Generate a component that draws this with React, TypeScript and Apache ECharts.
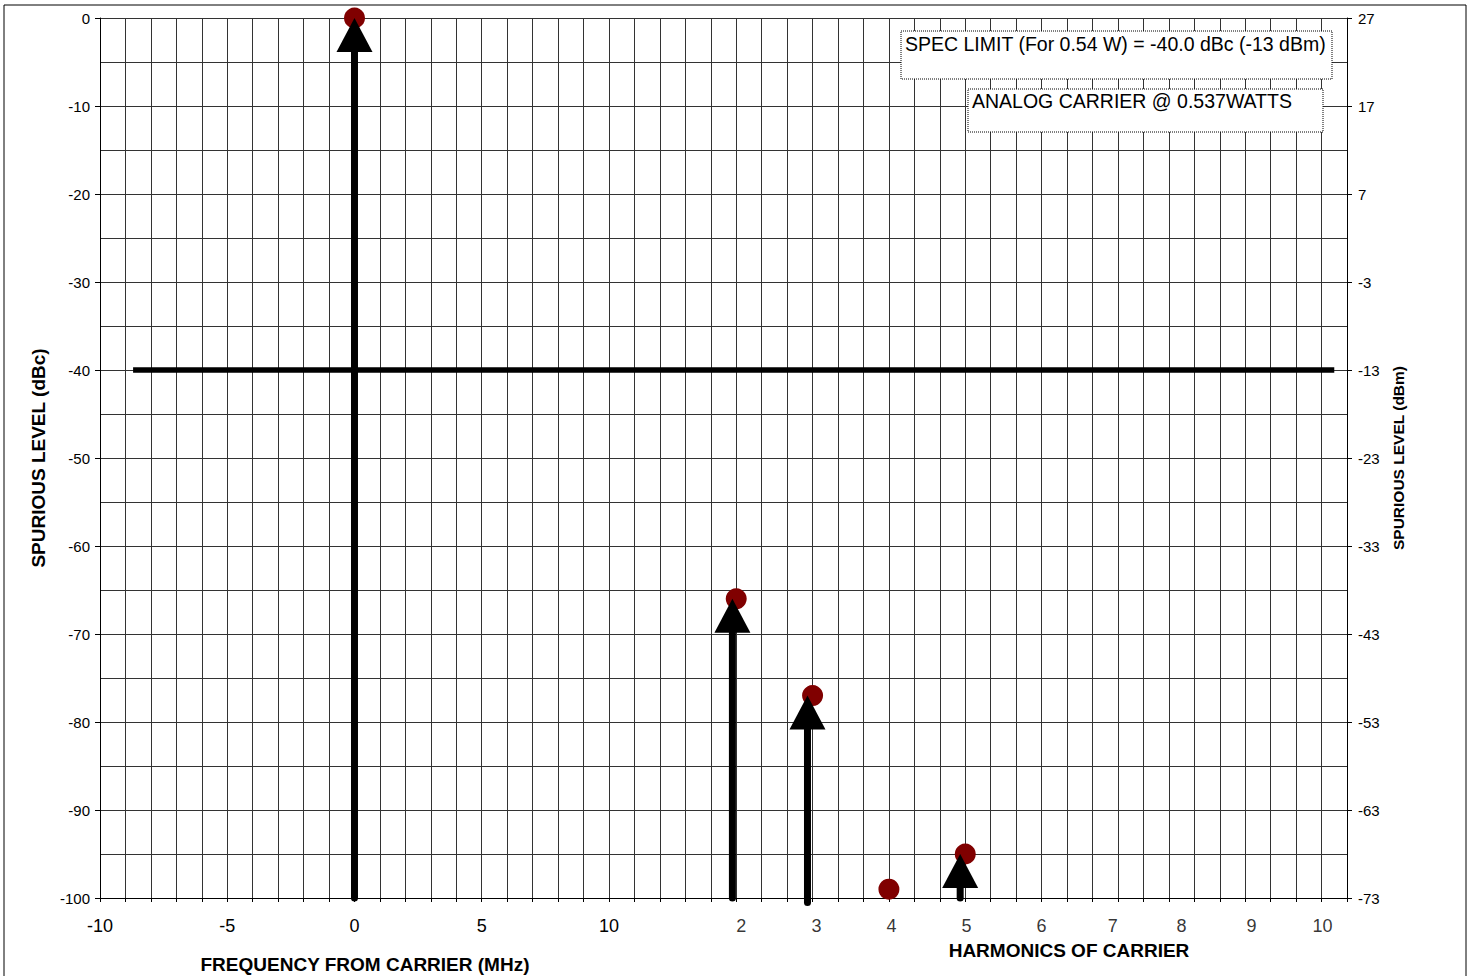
import React, { useEffect, useRef } from "react";
import * as echarts from "echarts";

const FONT = '"Liberation Sans", Arial, Helvetica, sans-serif';

// Frequency axis (MHz from carrier)
const freqMin = -10;
const freqMax = 39;
const freqLabelValues = [-10, -5, 0, 5, 10];

// Spurious level axis (dBc); right axis shows the same scale in dBm
const levelMin = -100;
const levelMax = 0;
const carrierDbm = 27;

// Measured levels: carrier at 0 MHz, then harmonics 2..5
const spurX = [0, 15, 18, 21, 24];
const spurLevel = [0, -66, -77, -99, -95];

// Arrows pointing up to the measured levels
const arrowX = [0, 14.85, 17.8, 23.8];
const arrowTop = [0, -66, -77, -95];
const arrowBottom = [-100, -100, -100.5, -100];

// Spec limit line
const specLimit = -40;
const specLimitStart = -8.7;
const specLimitEnd = 38.5;

// Harmonic numbering along the bottom axis
const harmonicNames = ["2", "3", "4", "5", "6", "7", "8", "9", "10"];
const harmonicLabelX = [15.2, 18.15, 21.1, 24.05, 27.0, 29.8, 32.5, 35.25, 38.04];

const specText = "SPEC LIMIT (For 0.54 W) = -40.0 dBc (-13 dBm)";
const carrierText = "ANALOG CARRIER @ 0.537WATTS";

const gridColor = "#333";

export default function App() {
  const ref = useRef<HTMLDivElement>(null);

  useEffect(() => {
    if (!ref.current) return;
    const chart = echarts.init(ref.current, null, { renderer: "svg" });

    const noteBox = (x: number, y: number, w: number, h: number) => ({
      type: "rect",
      z: 100,
      silent: true,
      shape: { x, y, width: w, height: h },
      style: { fill: "#fff", stroke: "#000", lineWidth: 1, lineDash: [1, 1] },
    });
    const noteText = (x: number, y: number, text: string) => ({
      type: "text",
      z: 101,
      silent: true,
      x,
      y,
      style: {
        text,
        fontSize: 19.5,
        fontFamily: FONT,
        fill: "#000",
        align: "left",
        verticalAlign: "middle",
      },
    });

    const option: any = {
      animation: false,
      backgroundColor: "#fff",
      textStyle: { fontFamily: FONT, color: "#000" },
      grid: { left: 100, right: 129, top: 18, bottom: 78, containLabel: false },
      xAxis: {
        type: "value",
        min: freqMin,
        max: freqMax,
        interval: 1,
        axisLine: { show: true, onZero: false, lineStyle: { color: "#000", width: 1 } },
        axisTick: { show: true, length: 4, lineStyle: { color: "#000" } },
        axisLabel: {
          fontSize: 18,
          fontFamily: FONT,
          color: "#000",
          margin: 19,
          formatter: (v: number) => (freqLabelValues.indexOf(v) >= 0 ? String(v) : ""),
        },
        splitLine: { show: true, lineStyle: { color: gridColor, width: 1 } },
      },
      yAxis: [
        {
          type: "value",
          position: "left",
          min: levelMin,
          max: levelMax,
          interval: 10,
          name: "SPURIOUS LEVEL (dBc)",
          nameLocation: "middle",
          nameRotate: 90,
          nameGap: 52,
          nameTextStyle: { fontSize: 19, fontWeight: "bold", fontFamily: FONT, color: "#000" },
          axisLine: { show: true, onZero: false, lineStyle: { color: "#000", width: 1 } },
          axisTick: { show: true, length: 5, lineStyle: { color: "#000" } },
          axisLabel: { fontSize: 15, fontFamily: FONT, color: "#000", margin: 10 },
          splitLine: { show: true, lineStyle: { color: gridColor, width: 1 } },
          minorTick: { show: false, splitNumber: 2 },
          minorSplitLine: { show: true, lineStyle: { color: gridColor, width: 1 } },
        },
        {
          type: "value",
          position: "right",
          min: levelMin,
          max: levelMax,
          interval: 10,
          name: "SPURIOUS LEVEL (dBm)",
          nameLocation: "middle",
          nameRotate: 90,
          nameGap: 42,
          nameTextStyle: { fontSize: 15.5, fontWeight: "bold", fontFamily: FONT, color: "#000" },
          axisLine: { show: true, onZero: false, lineStyle: { color: "#000", width: 1 } },
          axisTick: { show: true, length: 5, lineStyle: { color: "#000" } },
          axisLabel: {
            fontSize: 15,
            fontFamily: FONT,
            color: "#000",
            margin: 11,
            formatter: (v: number) => String(v + carrierDbm),
          },
          splitLine: { show: false },
        },
      ],
      series: [
        {
          name: "spec",
          type: "line",
          data: [
            [specLimitStart, specLimit],
            [specLimitEnd, specLimit],
          ],
          symbol: "none",
          lineStyle: { color: "#000", width: 5.5 },
          silent: true,
          z: 2,
        },
        {
          name: "levels",
          type: "scatter",
          data: spurX.map((x, i) => [x, spurLevel[i]]),
          symbol: "circle",
          symbolSize: 21,
          itemStyle: { color: "#800000", opacity: 1 },
          clip: false,
          silent: true,
          z: 3,
        },
        {
          name: "arrows",
          type: "custom",
          data: arrowX.map((x, i) => [x, arrowTop[i], arrowBottom[i]]),
          clip: false,
          silent: true,
          z: 4,
          renderItem: (params: any, api: any) => {
            const x = api.value(0);
            const top = api.coord([x, api.value(1)]);
            const bottom = api.coord([x, api.value(2)]);
            const headH = 34;
            const headW = 36;
            return {
              type: "group",
              children: [
                {
                  type: "line",
                  shape: { x1: bottom[0], y1: bottom[1], x2: top[0], y2: top[1] + headH - 2 },
                  style: { stroke: "#000", lineWidth: 7, lineCap: "round" },
                },
                {
                  type: "polygon",
                  shape: {
                    points: [
                      [top[0], top[1]],
                      [top[0] - headW / 2, top[1] + headH],
                      [top[0] + headW / 2, top[1] + headH],
                    ],
                  },
                  style: { fill: "#000" },
                },
              ],
            };
          },
        },
        {
          name: "harmonics",
          type: "scatter",
          data: harmonicLabelX.map((x, i) => [x, levelMin, harmonicNames[i]]),
          symbolSize: 0,
          silent: true,
          clip: false,
          label: {
            show: true,
            position: "inside",
            offset: [0, 28],
            fontSize: 18,
            fontFamily: FONT,
            color: "#000",
            formatter: (p: any) => p.value[2],
          },
        },
      ],
      graphic: [
        {
          type: "rect",
          z: 100,
          silent: true,
          shape: { x: 4, y: 5, width: 1462, height: 1000 },
          style: { fill: "none", stroke: "#000", lineWidth: 1 },
        },
        noteBox(901, 31, 431, 48),
        noteText(905, 44, specText),
        noteBox(968, 89, 355, 43),
        noteText(972, 101, carrierText),
        {
          type: "text",
          x: 365,
          y: 964,
          z: 100,
          style: {
            text: "FREQUENCY FROM CARRIER (MHz)",
            fontSize: 19,
            fontWeight: "bold",
            fontFamily: FONT,
            fill: "#000",
            align: "center",
            verticalAlign: "middle",
          },
        },
        {
          type: "text",
          x: 1069,
          y: 950,
          z: 100,
          style: {
            text: "HARMONICS OF CARRIER",
            fontSize: 19,
            fontWeight: "bold",
            fontFamily: FONT,
            fill: "#000",
            align: "center",
            verticalAlign: "middle",
          },
        },
      ],
    };

    chart.setOption(option);
    return () => chart.dispose();
  }, []);

  return (
    <div
      ref={ref}
      style={{ position: "absolute", left: 0, top: 0, width: 1476, height: 976, background: "#fff" }}
    />
  );
}
